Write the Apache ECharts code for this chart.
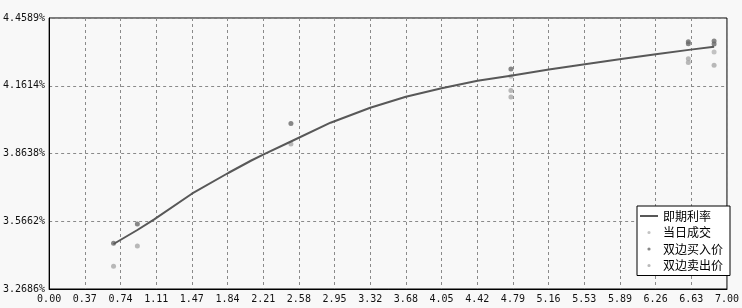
<!DOCTYPE html>
<html>
<head>
<meta charset="utf-8">
<script src="https://cdn.jsdelivr.net/npm/echarts@6/dist/echarts.min.js"></script>
<style>
html,body{margin:0;padding:0;background:#f8f8f8;}
#chart{width:742px;height:308px;}
</style>
</head>
<body>
<div id="chart"></div>
<script>
// Tick labels
const xTickLabels = ['0.00','0.37','0.74','1.11','1.47','1.84','2.21','2.58','2.95','3.32','3.68','4.05','4.42','4.79','5.16','5.53','5.89','6.26','6.63','7.00'];
const yTickLabels = ['3.2686%','3.5662%','3.8638%','4.1614%','4.4589%'];

// Spot-rate curve (即期利率): term (years), yield (%)
const curveTerm  = [0.665, 0.911, 1.085, 1.474, 1.849, 2.088, 2.221, 2.497, 2.906, 3.316, 3.684, 4.053, 4.424, 4.767, 5.161, 5.533, 5.908, 6.284, 6.625, 6.867];
const curveYield = [3.4663, 3.5277, 3.5745, 3.6870, 3.7781, 3.8330, 3.8610, 3.9165, 3.9990, 4.0649, 4.1132, 4.1501, 4.1835, 4.2055, 4.2325, 4.2560, 4.2790, 4.3010, 4.3200, 4.3329];

// 当日成交 (trades)
const tradeTerm  = [4.769, 6.867];
const tradeYield = [4.203, 4.310];

// 双边买入价 (bid)
const bidTerm  = [0.665, 0.911, 2.497, 4.769, 6.601, 6.601, 6.867, 6.867];
const bidYield = [3.470, 3.554, 3.996, 4.235, 4.355, 4.346, 4.358, 4.345];

// 双边卖出价 (ask)
const askTerm  = [0.665, 0.911, 2.497, 4.769, 4.769, 6.601, 6.601, 6.867];
const askYield = [3.368, 3.457, 3.906, 4.140, 4.112, 4.280, 4.263, 4.251];

const X_MIN = parseFloat(xTickLabels[0]);
const X_MAX = parseFloat(xTickLabels[xTickLabels.length - 1]);
const Y_MIN = parseFloat(yTickLabels[0]);
const Y_MAX = parseFloat(yTickLabels[yTickLabels.length - 1]);
const NX = xTickLabels.length - 1;
const NY = yTickLabels.length - 1;
const tx = x => (x - X_MIN) / (X_MAX - X_MIN) * NX;
const ty = y => (y - Y_MIN) / (Y_MAX - Y_MIN) * NY;
const pts = (xs, ys) => xs.map((x, i) => [tx(x), ty(ys[i])]);

const dotIcon = 'path://M0,0M18,12M9,6m-1.6,0a1.6,1.6 0 1,0 3.2,0a1.6,1.6 0 1,0 -3.2,0';
const lineIcon = 'path://M0,0M18,12M0,5h18v2h-18z';
const monoFont = 'DejaVu Sans Mono';

const chart = echarts.init(document.getElementById('chart'), null, {renderer: 'canvas'});
chart.setOption({
  backgroundColor: '#f8f8f8',
  animation: false,
  grid: {
    left: 46, right: 12, top: 18, bottom: 19,
    show: true, borderColor: '#000', borderWidth: 1, backgroundColor: 'transparent'
  },
  xAxis: {
    type: 'value', min: 0, max: NX, interval: 1,
    axisLine: {show: true, onZero: false, lineStyle: {color: '#000', width: 1}},
    axisTick: {show: false},
    axisLabel: {
      margin: 5, color: '#111', fontFamily: monoFont, fontSize: 10,
      formatter: v => xTickLabels[Math.round(v)]
    },
    splitLine: {show: true, lineStyle: {color: '#8a8a8a', type: [3, 3], width: 1}}
  },
  yAxis: {
    type: 'value', min: 0, max: NY, interval: 1,
    axisLine: {show: true, onZero: false, lineStyle: {color: '#000', width: 1}},
    axisTick: {show: false},
    axisLabel: {
      margin: 4, color: '#111', fontFamily: monoFont, fontSize: 10,
      formatter: v => yTickLabels[Math.round(v)]
    },
    splitLine: {show: true, lineStyle: {color: '#8a8a8a', type: [3, 3], width: 1}}
  },
  legend: {
    orient: 'vertical', left: 637, top: 206,
    backgroundColor: '#fff', borderColor: '#000', borderWidth: 1,
    padding: [4, 7, 4, 3], itemGap: 4.5, itemWidth: 18, itemHeight: 12,
    textStyle: {fontSize: 12, fontFamily: 'Noto Sans CJK SC', color: '#000'},
    data: [
      {name: '即期利率', icon: lineIcon},
      {name: '当日成交', icon: dotIcon},
      {name: '双边买入价', icon: dotIcon},
      {name: '双边卖出价', icon: dotIcon}
    ]
  },
  series: [
    {
      name: '即期利率', type: 'line', symbol: 'none', smooth: false,
      lineStyle: {color: '#585858', width: 2}, itemStyle: {color: '#585858'},
      data: pts(curveTerm, curveYield), z: 3
    },
    {
      name: '当日成交', type: 'scatter', symbol: 'circle', symbolSize: 5,
      itemStyle: {color: '#b4b4b4'}, data: pts(tradeTerm, tradeYield), z: 2
    },
    {
      name: '双边买入价', type: 'scatter', symbol: 'circle', symbolSize: 5,
      itemStyle: {color: '#6a6a6a'}, data: pts(bidTerm, bidYield), z: 2
    },
    {
      name: '双边卖出价', type: 'scatter', symbol: 'circle', symbolSize: 5,
      itemStyle: {color: '#a8a8a8'}, data: pts(askTerm, askYield), z: 2
    }
  ]
});
</script>
</body>
</html>
